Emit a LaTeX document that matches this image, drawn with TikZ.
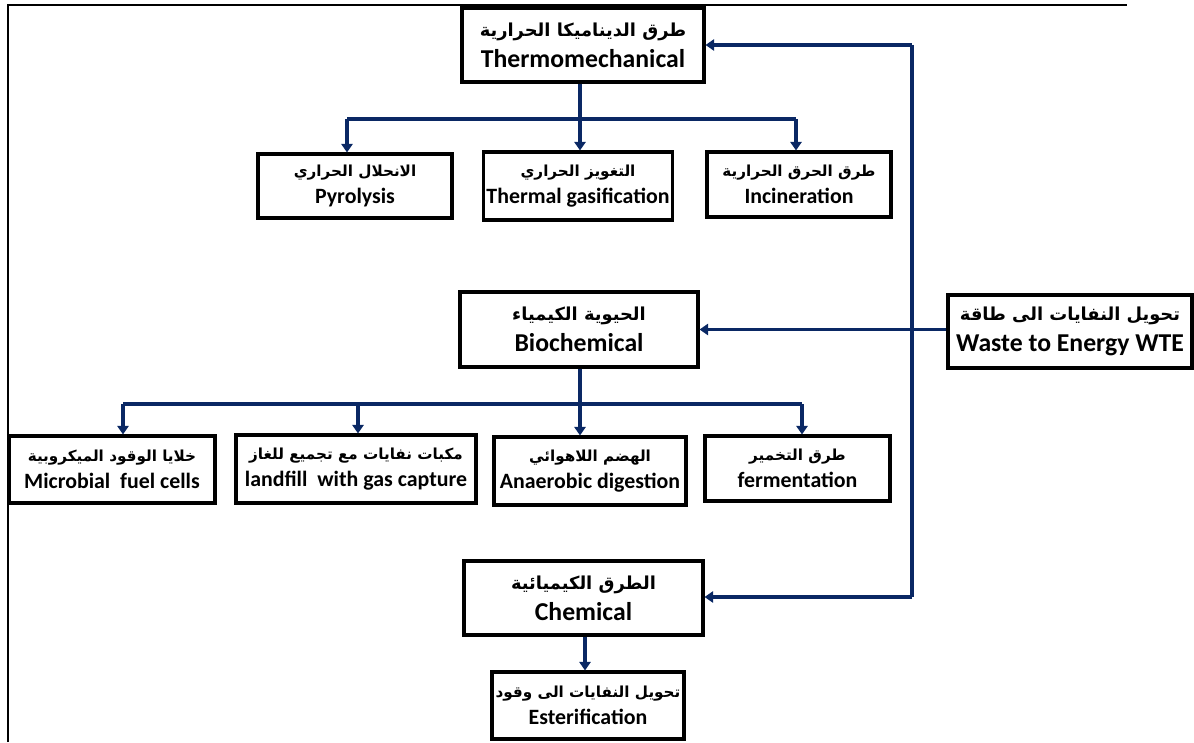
\documentclass[tikz,border=0pt]{standalone}
\usepackage{fontspec}
\setmainfont{Carlito}
\newfontfamily\arabicfont[Script=Arabic]{DejaVu Sans}
\TeXXeTstate=1
\usetikzlibrary{arrows.meta}
\definecolor{wteblue}{RGB}{10,40,100}
\newcommand{\arb}[1]{{\arabicfont\bfseries\fontsize{13.4}{16}\selectfont\beginR #1\endR}}
\newcommand{\ars}[1]{{\arabicfont\bfseries\fontsize{11.4}{14}\selectfont\beginR #1\endR}}
\begin{document}
\begin{tikzpicture}[x=0.75pt,y=-0.75pt,
  box/.style 2 args={draw=black,line width=2.3pt,inner sep=0pt,align=center,
    minimum width=#1*0.75pt,minimum height=#2*0.75pt},
  bigtxt/.style={font=\fontsize{19.3}{23}\selectfont\bfseries},
  smalltxt/.style={font=\fontsize{16.4}{20}\selectfont\bfseries},
  bl/.style={draw=wteblue,line width=2.6pt},
  arr/.style={bl,-{Triangle[width=8.5pt,length=6.5pt]}}]
\useasboundingbox (0,0) rectangle (1194,742);
% outer frame
\draw[line width=1.6pt] (8,742) -- (8,5) -- (1127,5);
% nodes
\node[box={242}{74},bigtxt] (thermo) at (583,45) {\arb{طرق الديناميكا الحرارية}\\Thermomechanical};
\node[box={194}{64},smalltxt] (pyro) at (355,186) {\ars{الانحلال الحراري}\\Pyrolysis};
\node[box={189}{68},smalltxt] (gas) at (578,186) {\ars{التغويز الحراري}\\Thermal gasification};
\node[box={184}{65},smalltxt] (incin) at (799,184.5) {\ars{طرق الحرق الحرارية}\\Incineration};
\node[box={238}{75},bigtxt] (bio) at (579,329.5) {\arb{الحيوية الكيمياء}\\Biochemical};
\node[box={244}{73},bigtxt] (wte) at (1070,331.5) {\arb{تحويل النفايات الى طاقة}\\Waste to Energy WTE};
\node[box={206}{67},smalltxt] (micro) at (112,469.5) {\ars{خلايا الوقود الميكروبية}\\Microbial\ \ fuel cells};
\node[box={240}{68},smalltxt] (land) at (356,469) {\ars{مكبات نفايات مع تجميع للغاز}\\landfill\ \ with gas capture};
\node[box={192}{68},smalltxt] (anae) at (590,471) {\ars{الهضم اللاهوائي}\\Anaerobic digestion};
\node[box={185}{65},smalltxt] (ferm) at (797.5,468.5) {\ars{طرق التخمير}\\fermentation};
\node[box={239}{74},bigtxt] (chem) at (583.5,598) {\arb{الطرق الكيميائية}\\Chemical};
\node[box={192}{67},smalltxt] (ester) at (588,705.5) {\ars{تحويل النفايات الى وقود}\\Esterification};
% thermo tree
\coordinate (tj) at (580,119);
\coordinate (t1) at (347,119);
\coordinate (t3) at (796,119);
\draw[bl] (thermo.south -| tj) -- (tj);
\draw[bl] (t1) -- (t3);
\draw[arr] (t1) -- (t1 |- pyro.north);
\draw[arr] (tj) -- (tj |- gas.north);
\draw[arr] (t3) -- (t3 |- incin.north);
% bio tree
\coordinate (bj) at (580,404);
\coordinate (b1) at (123,404);
\coordinate (b2) at (358,404);
\coordinate (b4) at (802,404);
\draw[bl] (bio.south -| bj) -- (bj);
\draw[bl] (b1) -- (b4);
\draw[arr] (b1) -- (b1 |- micro.north);
\draw[arr] (b2) -- (b2 |- land.north);
\draw[arr] (bj) -- (bj |- anae.north);
\draw[arr] (b4) -- (b4 |- ferm.north);
% chem
\coordinate (cj) at (585,0);
\draw[arr] (chem.south -| cj) -- (ester.north -| cj);
% WTE links
\coordinate (vt) at (912,45);
\coordinate (vb) at (912,597);
\draw[bl] (vt) -- (vb);
\draw[arr] (vt) -- (vt -| thermo.east);
\draw[arr] (vb) -- (vb -| chem.east);
\draw[arr] (wte.west |- bio.east) -- (bio.east);
\end{tikzpicture}
\end{document}
